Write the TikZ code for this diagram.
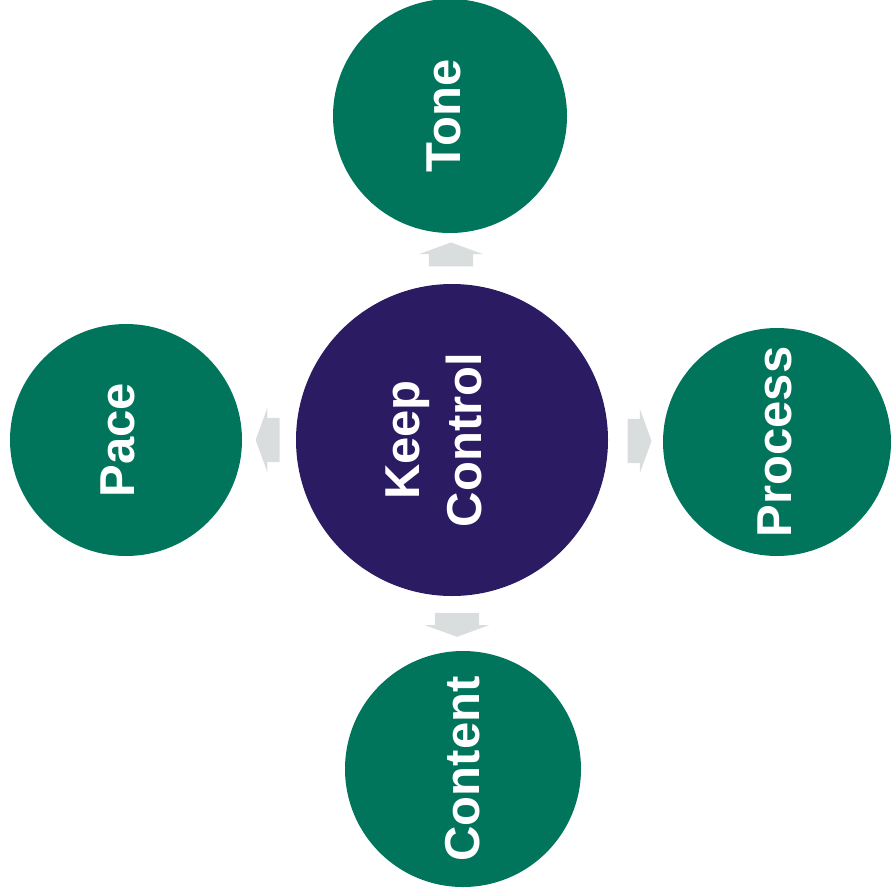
\documentclass[tikz,border=0pt]{standalone}
\usepackage{fontspec}
\setmainfont{Liberation Sans}
\usetikzlibrary{shapes.arrows,calc}
\definecolor{topicgreen}{RGB}{0,117,91}
\definecolor{hubpurple}{RGB}{42,27,99}
\definecolor{pushgray}{RGB}{218,221,221}
\begin{document}
\begin{tikzpicture}[x=1pt,y=-1pt,
    topic/.style={circle, fill=topicgreen, draw=none, inner sep=0pt},
    hub/.style={circle, fill=hubpurple, draw=none, inner sep=0pt},
    word/.style={text=white, font=\bfseries\fontsize{49}{62}\selectfont, rotate=90, align=center, inner sep=0pt},
    push/.style={single arrow, fill=pushgray, draw=none, inner xsep=0pt, inner ysep=22pt,
        minimum height=24pt,
        single arrow head extend=10pt, single arrow tip angle=140}]
        \useasboundingbox (0,0) rectangle (891,894);
        % circles
        \node[hub, minimum size=312pt] (keep) at (452,440) {};
        \node[topic, minimum size=234pt] (tone) at (450,116) {};
        \node[topic, minimum size=232pt] (pace) at (126,440) {};
        \node[topic, minimum size=228pt] (process) at (777,442) {};
        \node[topic, minimum size=236pt] (content) at (463,769) {};
        % texts
        \node[word] (keepText) at ([xshift=-18pt]keep.center) {Keep\\Control};
        \node[word] (toneText) at ([xshift=-6pt]tone.center) {Tone};
        \node[word] (paceText) at ([xshift=-8pt]pace.center) {Pace};
        \node[word] (processText) at ([xshift=-2pt]process.center) {Process};
        \node[word] (contentText) at (content.center) {Content};
        % block arrows
        \node[push, rotate=90] (toTone) at ($(keep.north)!0.5!(tone.south)$) {};
        \node[push, rotate=180] (toPace) at ($(keep.west)!0.45!(pace.east)$) {};
        \node[push] (toProcess) at ($(keep.east)!0.5!(process.west)$) {};
        \node[push, rotate=-90] (toContent) at ($(keep.south)!0.45!(content.north)$) {};
    \end{tikzpicture}
\end{document}
